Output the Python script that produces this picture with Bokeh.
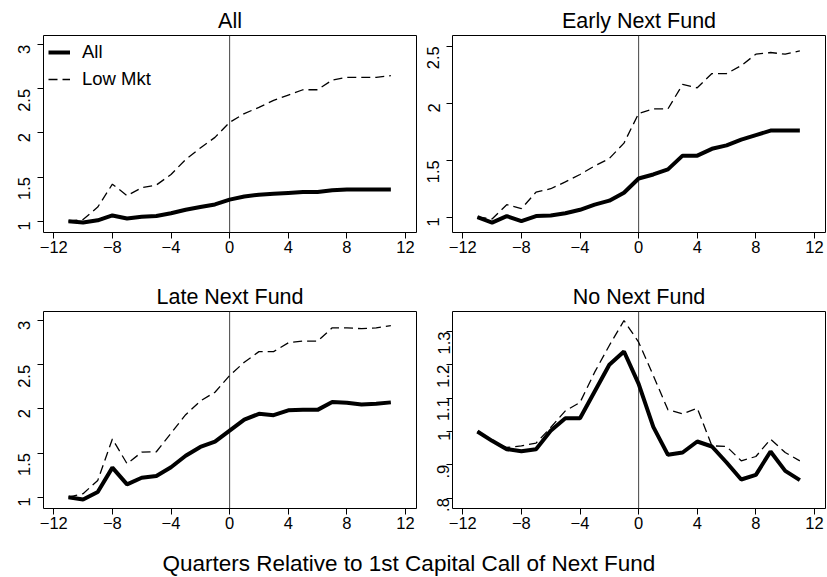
import math
from bokeh.plotting import figure
from bokeh.models import Range1d, FixedTicker, Span, Legend, LegendItem
from bokeh.layouts import column, row
from bokeh.core.properties import value
from bokeh.embed import file_html
from bokeh.resources import INLINE

quarters = list(range(-11, 12))
x_ticks = [-12, -8, -4, 0, 4, 8, 12]
x_label = "Quarters Relative to 1st Capital Call of Next Fund"
series_names = ["All", "Low Mkt"]

titles = ["All", "Early Next Fund", "Late Next Fund", "No Next Fund"]

all_all = [1.00, 0.985, 1.01, 1.065, 1.03, 1.05, 1.06, 1.09, 1.13, 1.16, 1.19, 1.245,
           1.28, 1.30, 1.31, 1.32, 1.33, 1.33, 1.35, 1.36, 1.36, 1.36, 1.36]
all_low = [1.00, 1.02, 1.16, 1.42, 1.29, 1.38, 1.41, 1.53, 1.70, 1.83, 1.95, 2.12,
           2.22, 2.29, 2.37, 2.43, 2.49, 2.49, 2.60, 2.63, 2.63, 2.63, 2.65]

early_all = [1.00, 0.953, 1.01, 0.965, 1.01, 1.015, 1.035, 1.065, 1.11, 1.145, 1.215, 1.34,
             1.375, 1.42, 1.54, 1.54, 1.60, 1.63, 1.68, 1.72, 1.76, 1.76, 1.76]
early_low = [1.00, 0.985, 1.11, 1.075, 1.22, 1.25, 1.31, 1.375, 1.45, 1.515, 1.65, 1.91,
             1.95, 1.95, 2.165, 2.135, 2.26, 2.26, 2.33, 2.43, 2.445, 2.43, 2.46]

late_all = [1.00, 0.975, 1.06, 1.335, 1.145, 1.22, 1.24, 1.34, 1.47, 1.57, 1.63, 1.755,
            1.88, 1.945, 1.93, 1.985, 1.99, 1.99, 2.08, 2.07, 2.05, 2.06, 2.075]
late_low = [1.00, 1.04, 1.19, 1.66, 1.38, 1.51, 1.515, 1.725, 1.935, 2.09, 2.19, 2.38,
            2.53, 2.65, 2.65, 2.75, 2.77, 2.77, 2.92, 2.92, 2.91, 2.92, 2.945]

none_all = [1.00, 0.972, 0.947, 0.941, 0.947, 1.002, 1.04, 1.04, 1.12, 1.20, 1.24, 1.143,
            1.014, 0.93, 0.937, 0.97, 0.955, 0.907, 0.856, 0.87, 0.94, 0.882, 0.854]
none_low = [1.00, 0.972, 0.952, 0.957, 0.965, 1.012, 1.062, 1.087, 1.178, 1.258, 1.333, 1.268,
            1.168, 1.065, 1.053, 1.07, 0.957, 0.955, 0.912, 0.925, 0.977, 0.937, 0.912]

y_ticks_a = [1, 1.5, 2, 2.5, 3]
y_labels_a = ["1", "1.5", "2", "2.5", "3"]
y_ticks_b = [1, 1.5, 2, 2.5]
y_labels_b = ["1", "1.5", "2", "2.5"]
y_ticks_c = [0.8, 0.9, 1.0, 1.1, 1.2, 1.3]
y_labels_c = [".8", ".9", "1", "1.1", "1.2", "1.3"]

FONT = "Liberation Sans"


def make_panel(title, s_all, s_low, yr, yticks, ylabels, left, right, bottom, lab_standoff,
               legend=False):
    p = figure(frame_width=373, frame_height=197, output_backend="svg", toolbar_location=None,
               x_range=Range1d(-12.7, 12.75), y_range=Range1d(*yr),
               min_border_left=left, min_border_right=right, min_border_top=35,
               min_border_bottom=bottom)
    p.title.text = title
    p.title.align = "center"
    p.title.text_font = FONT
    p.title.text_font_size = "21.5px"
    p.title.text_font_style = "normal"
    p.title.text_color = "black"
    p.title.standoff = 5
    p.grid.visible = False
    p.outline_line_color = "black"
    p.outline_line_width = 1
    p.background_fill_color = "white"
    p.border_fill_color = "white"

    p.xaxis.ticker = FixedTicker(ticks=x_ticks)
    p.yaxis.ticker = FixedTicker(ticks=yticks)
    p.yaxis.major_label_overrides = {t: l for t, l in zip(yticks, ylabels)}
    p.yaxis.major_label_orientation = math.pi / 2
    for ax in (p.xaxis, p.yaxis):
        ax.axis_line_color = None
        ax.minor_tick_line_color = None
        ax.major_tick_in = 0
        ax.major_tick_out = 6
        ax.major_tick_line_color = "black"
        ax.major_label_text_font = FONT
        ax.major_label_text_font_size = "16.5px"
        ax.major_label_text_color = "black"
    p.xaxis.major_label_standoff = 2
    p.yaxis.major_label_standoff = lab_standoff

    p.add_layout(Span(location=0, dimension="height", line_color="#444444", line_width=1,
                      level="underlay"))
    r_low = p.line(quarters, s_low, line_color="black", line_width=1.3, line_dash="9 5")
    r_all = p.line(quarters, s_all, line_color="black", line_width=4)
    if legend:
        leg = Legend(items=[LegendItem(label=series_names[0], renderers=[r_all]),
                            LegendItem(label=series_names[1], renderers=[r_low])],
                     location="top_left", margin=5, padding=6, spacing=3,
                     glyph_width=22, glyph_height=24, label_height=24, label_standoff=12,
                     label_text_font=FONT, label_text_font_size="18.5px",
                     label_text_color="black",
                     border_line_color=None, background_fill_alpha=0)
        p.add_layout(leg)
    return p


p1 = make_panel(titles[0], all_all, all_low, (0.872, 3.105), y_ticks_a, y_labels_a,
                43, 1, 44, 13, legend=True)
p2 = make_panel(titles[1], early_all, early_low, (0.866, 2.594), y_ticks_b, y_labels_b,
                35, 2, 44, 13)
p3 = make_panel(titles[2], late_all, late_low, (0.872, 3.105), y_ticks_a, y_labels_a,
                43, 1, 38, 13)
p4 = make_panel(titles[3], none_all, none_low, (0.769, 1.36), y_ticks_c, y_labels_c,
                35, 2, 38, 3)

lab = figure(width=827, height=31, output_backend="svg", toolbar_location=None, title=None,
             x_range=Range1d(0, 1), y_range=Range1d(0, 1), min_border=0,
             x_axis_type=None, y_axis_type=None)
lab.grid.visible = False
lab.outline_line_color = None
lab.text(x=[0.4938], y=[0.45], text=[x_label], text_align="center", text_baseline="middle",
         text_font=value(FONT), text_font_size="22.5px", text_color="black")

layout = column(row(p1, p2), row(p3, p4), lab)

open("out.html", "w").write(file_html(layout, INLINE))
